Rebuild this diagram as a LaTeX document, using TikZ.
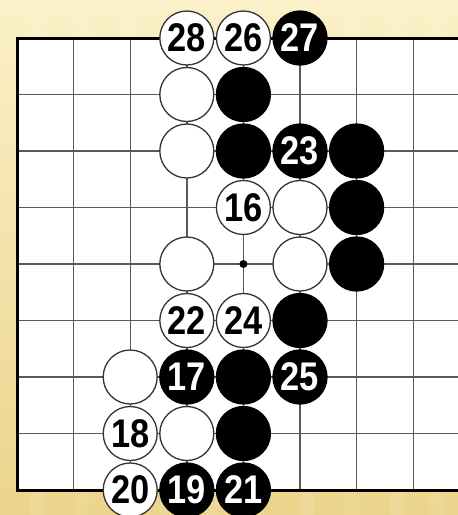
\documentclass[tikz,border=0pt]{standalone}
\usepackage{fontspec}
\setmainfont{Liberation Sans}
\newcommand{\stonenum}[1]{\scalebox{0.86}[1]{#1}}
\begin{document}
\begin{tikzpicture}[x=1pt,y=-1pt,
  gridline/.style={line width=1.4pt, draw=black!65},
  borderline/.style={line width=3pt, draw=black},
  stone/.style={circle, minimum size=54pt, inner sep=0pt, font=\fontsize{40}{40}\selectfont\bfseries},
  wstone/.style={stone, fill=white, draw=black!80, line width=1.3pt, text=black},
  bstone/.style={stone, fill=black, draw=black, line width=1.3pt, text=white},
  starpt/.style={circle, fill=black, minimum size=8pt, inner sep=0pt}]
\useasboundingbox (0,0) rectangle (458,515);
% background
\shade[top color={rgb,255:red,251;green,240;blue,200}, bottom color={rgb,255:red,236;green,212;blue,140}] (0,0) rectangle (458,515);
\foreach \x/\o in {30/0.10,75/0.08,120/0.12,160/0.07,205/0.10,250/0.08,300/0.11,345/0.07,390/0.10,430/0.08}
  \fill[white, opacity=\o] (\x,0) rectangle (\x+14,515);
% board
\fill[white] (17,38) rectangle (458,490);
\foreach \i in {1,...,7}
  \draw[gridline] ({17+56.6*\i},38) -- ({17+56.6*\i},490);
\foreach \j in {1,...,7}
  \draw[gridline] (17,{38+56.5*\j}) -- (458,{38+56.5*\j});
\draw[borderline] (458,38) -- (17,38) -- (17,490) -- (458,490);
% star point
\node[starpt] (star) at ({17+56.6*4},{38+56.5*4}) {};
% stones: (col,row,style,label)
\foreach \c/\r/\s/\t/\n in {
  3/0/wstone/28/a, 4/0/wstone/26/b, 5/0/bstone/27/c,
  3/1/wstone//d, 4/1/bstone//e,
  3/2/wstone//f, 4/2/bstone//g, 5/2/bstone/23/h, 6/2/bstone//i,
  4/3/wstone/16/j, 5/3/wstone//k, 6/3/bstone//l,
  3/4/wstone//m, 5/4/wstone//n, 6/4/bstone//o,
  3/5/wstone/22/p, 4/5/wstone/24/q, 5/5/bstone//r,
  2/6/wstone//s, 3/6/bstone/17/t, 4/6/bstone//u, 5/6/bstone/25/v,
  2/7/wstone/18/w, 3/7/wstone//x, 4/7/bstone//y,
  2/8/wstone/20/z, 3/8/bstone/19/aa, 4/8/bstone/21/bb}
  \node[\s] (st\n) at ({17+56.6*\c},{38+56.5*\r}) {\stonenum{\t}};
\end{tikzpicture}
\end{document}
